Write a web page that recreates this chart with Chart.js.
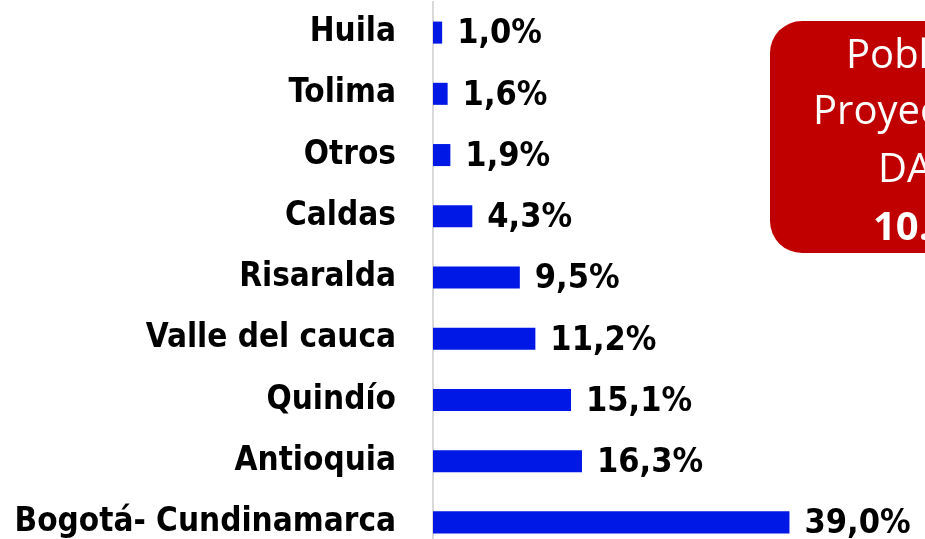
<!DOCTYPE html>
<html>
<head>
<meta charset="utf-8">
<script src="https://cdn.jsdelivr.net/npm/chart.js@4"></script>
<style>
  html, body { margin: 0; padding: 0; background: #fff; overflow: hidden; }
  #chart { position: absolute; left: 0; top: 0; }
</style>
</head>
<body>
<canvas id="chart" width="925" height="553"></canvas>
<script>
const categories = ['Huila', 'Tolima', 'Otros', 'Caldas', 'Risaralda', 'Valle del cauca', 'Quindío', 'Antioquia', 'Bogotá- Cundinamarca'];
const values = [1.0, 1.6, 1.9, 4.3, 9.5, 11.2, 15.1, 16.3, 39.0];
const boxLines = ['Población', 'Proyectada', 'DANE', '10.5'];

const labelFont = { family: "'DejaVu Sans Condensed', 'DejaVu Sans'", size: 33, weight: 'bold' };

// etiquetas de valor al final de cada barra
const valueLabels = {
    id: 'valueLabels',
    afterDatasetsDraw(chart) {
        const ctx = chart.ctx;
        const meta = chart.getDatasetMeta(0);
        ctx.save();
        ctx.font = `bold 34px ${labelFont.family}`;
        ctx.fillStyle = '#000';
        ctx.textAlign = 'left';
        ctx.textBaseline = 'middle';
        meta.data.forEach((bar, i) => {
            const txt = values[i].toFixed(1).replace('.', ',') + '%';
            ctx.fillText(txt, bar.x + 15, bar.y + 2);
        });
        ctx.restore();
    }
};

// cuadro rojo de la esquina
const infoBox = {
    id: 'infoBox',
    afterDraw(chart) {
        const ctx = chart.ctx;
        ctx.save();
        ctx.fillStyle = '#c00000';
        ctx.beginPath();
        ctx.roundRect(770, 21, 260, 232, 32);
        ctx.fill();
        ctx.fillStyle = '#fff';
        ctx.textAlign = 'left';
        ctx.textBaseline = 'alphabetic';
        const xs = [846, 813, 878, 873];
        const ys = [68, 124, 182, 240];
        boxLines.forEach((t, i) => {
            ctx.font = (i === 3 ? 'bold ' : '') + "40px 'Open Sans'";
            ctx.fillText(t, xs[i], ys[i]);
        });
        ctx.restore();
    }
};

new Chart(document.getElementById('chart'), {
    type: 'bar',
    data: {
        labels: categories,
        datasets: [{
            data: values,
            backgroundColor: '#0018e6',
            borderWidth: 0,
            barPercentage: 0.9,
            categoryPercentage: 0.4
        }]
    },
    options: {
        indexAxis: 'y',
        responsive: false,
        animation: false,
        layout: { padding: { top: 2, right: 35, left: 0, bottom: 0 } },
        plugins: { legend: { display: false }, tooltip: { enabled: false } },
        scales: {
            x: { display: false, min: 0, max: 50 },
            y: {
                afterFit: (scale) => {
                    scale.width = 433;
                    scale.paddingTop = 0;
                    scale.paddingBottom = 0;
                },
                grid: { display: false },
                border: { display: true, color: '#d9d9d9', width: 2 },
                ticks: { color: '#000', font: labelFont, padding: 29 }
            }
        }
    },
    plugins: [valueLabels, infoBox]
});
</script>
</body>
</html>
